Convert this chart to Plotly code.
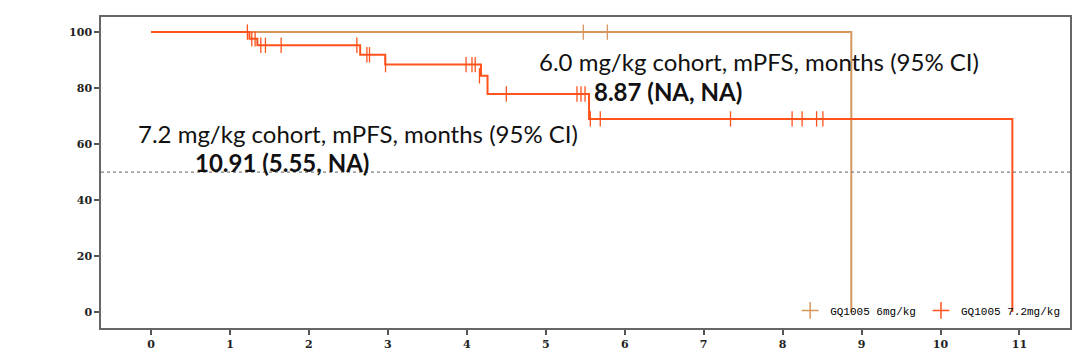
import plotly.graph_objects as go

# Kaplan-Meier step data (months, % PFS)
t6_time = [0, 8.87]
t6_surv = [100, 0]
t6_cens_time = [5.475, 5.78]
t6_cens_surv = [100, 100]

t72_time = [0, 1.246, 1.347, 2.649, 2.966, 4.179, 4.262, 5.548, 10.91]
t72_surv = [100, 97.6, 95.3, 91.9, 88.4, 84.4, 77.9, 69.0, 0]
t72_cens_time = [1.22, 1.276, 1.318, 1.39, 1.449, 1.648, 2.607, 2.734, 2.767, 2.97,
                 3.99, 4.065, 4.106, 4.16, 4.5, 5.395, 5.446, 5.497, 5.564, 5.69,
                 7.34, 8.12, 8.247, 8.43, 8.51]
t72_cens_surv = [100, 97.6, 97.6, 95.3, 95.3, 95.3, 95.3, 91.9, 91.9, 88.4,
                 88.4, 88.4, 88.4, 84.4, 77.9, 77.9, 77.9, 77.9, 69.0, 69.0,
                 69.0, 69.0, 69.0, 69.0, 69.0]

x_ticks = list(range(0, 12))
y_ticks = [0, 20, 40, 60, 80, 100]
names = ["GQ1005 6mg/kg", "GQ1005 7.2mg/kg"]

c6 = "#D6965E"
c72 = "#FF531C"

fig = go.Figure()
fig.add_trace(go.Scatter(x=t6_time, y=t6_surv, mode="lines", line=dict(color=c6, width=2, shape="hv"),
                         showlegend=False, hoverinfo="skip"))
fig.add_trace(go.Scatter(x=t6_cens_time, y=t6_cens_surv, mode="markers",
                         marker=dict(symbol="line-ns-open", size=11, color=c6, line=dict(color=c6, width=1.3)),
                         showlegend=False))
fig.add_trace(go.Scatter(x=t72_time, y=t72_surv, mode="lines", line=dict(color=c72, width=2, shape="hv"),
                         showlegend=False, hoverinfo="skip"))
fig.add_trace(go.Scatter(x=t72_cens_time, y=t72_cens_surv, mode="markers",
                         marker=dict(symbol="line-ns-open", size=11, color=c72, line=dict(color=c72, width=1.3)),
                         showlegend=False))
# legend entries
fig.add_trace(go.Scatter(x=[None], y=[None], mode="markers", name=names[0],
                         marker=dict(symbol="cross-thin-open", size=12, color=c6, line=dict(color=c6, width=1.5))))
fig.add_trace(go.Scatter(x=[None], y=[None], mode="markers", name=names[1],
                         marker=dict(symbol="cross-thin-open", size=12, color=c72, line=dict(color=c72, width=1.5))))

fig.add_shape(type="line", xref="paper", x0=0, x1=1, yref="y", y0=50, y1=50,
              line=dict(color="#808080", width=1.3, dash="dot"))

ann_font = dict(family="Lato", size=24, color="#111111")
fig.add_annotation(x=7.706, y=89.4, xref="x", yref="y", xanchor="center", yanchor="middle",
                   text="6.0 mg/kg cohort, mPFS, months (95% CI)", showarrow=False, font=ann_font)
fig.add_annotation(x=5.59, y=78.7, xref="x", yref="y", xanchor="left", yanchor="middle",
                   text="<b>8.87 (NA, NA)</b>", showarrow=False, font=ann_font)
fig.add_annotation(x=2.617, y=63.8, xref="x", yref="y", xanchor="center", yanchor="middle",
                   text="7.2 mg/kg cohort, mPFS, months (95% CI)", showarrow=False, font=ann_font)
fig.add_annotation(x=0.532, y=53.5, xref="x", yref="y", xanchor="left", yanchor="middle",
                   text="<b>10.91 (5.55, NA)</b>", showarrow=False, font=ann_font)

axis_common = dict(showline=True, linecolor="#666666", linewidth=1.5, mirror=True,
                   ticks="outside", ticklen=5, tickwidth=1.5, tickcolor="#555555",
                   showgrid=False, zeroline=False,
                   tickfont=dict(family="DejaVu Serif", size=11, color="#222222", weight="bold"))
fig.update_xaxes(range=[-0.634, 11.64], tickvals=x_ticks, **axis_common)
fig.update_yaxes(range=[-5.68, 105.4], tickvals=y_ticks, **axis_common)

fig.update_layout(
    width=1072, height=353,
    margin=dict(l=93, r=10, t=7, b=33),
    plot_bgcolor="white", paper_bgcolor="white",
    legend=dict(orientation="h", x=0.995, xanchor="right", y=0.01, yanchor="bottom",
                bgcolor="rgba(0,0,0,0)", font=dict(family="Liberation Mono", size=11, color="#000000"),
                itemwidth=30, tracegroupgap=0),
)

fig.write_html("out.html")
